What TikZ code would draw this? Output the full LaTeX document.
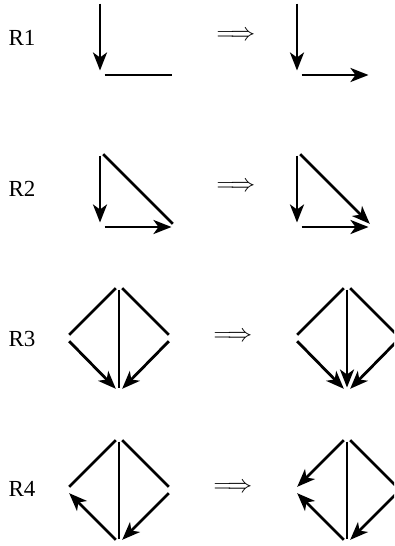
\documentclass[tikz,border=0pt]{standalone}
\usepackage{fontspec}
\setmainfont{Liberation Serif}
\usetikzlibrary{arrows.meta}

\begin{document}
\begin{tikzpicture}[
    x=1pt, y=-1pt,
    lbl/.style={font=\fontsize{23}{26}\selectfont},
    impl/.style={font=\fontsize{26}{30}\selectfont},
    edge/.style={line width=2.8pt, shorten <=4.5pt, shorten >=4.5pt},
    arr/.style={edge, -{Stealth[length=18pt, width=14pt, inset=5pt]}},
  ]
    \clip (0,0) rectangle (394,546);

    % R1
    \node[lbl]  (r1) at (22,38)  {R1};
    \node[impl] (i1) at (236,36) {$\Longrightarrow$};
    \coordinate (a1t) at (100,-1);
    \coordinate (a1c) at (100,75);
    \coordinate (a1r) at (176,75);
    \coordinate (b1t) at (297,-1);
    \coordinate (b1c) at (297,75);
    \coordinate (b1r) at (373,75);
    \draw[arr]  (a1t) -- (a1c);
    \draw[edge] (a1c) -- (a1r);
    \draw[arr]  (b1t) -- (b1c);
    \draw[arr]  (b1c) -- (b1r);

    % R2
    \node[lbl]  (r2) at (22,189)  {R2};
    \node[impl] (i2) at (236,187) {$\Longrightarrow$};
    \coordinate (a2t) at (100,151);
    \coordinate (a2c) at (100,227);
    \coordinate (a2r) at (176,227);
    \coordinate (b2t) at (297,151);
    \coordinate (b2c) at (297,227);
    \coordinate (b2r) at (373,227);
    \draw[arr]  (a2t) -- (a2c);
    \draw[arr]  (a2c) -- (a2r);
    \draw[edge] (a2t) -- (a2r);
    \draw[arr]  (b2t) -- (b2c);
    \draw[arr]  (b2c) -- (b2r);
    \draw[arr]  (b2t) -- (b2r);

    % R3
    \node[lbl]  (r3) at (22,339)  {R3};
    \node[impl] (i3) at (233,337) {$\Longrightarrow$};
    \coordinate (a3l) at (66,338);
    \coordinate (a3t) at (119,285);
    \coordinate (a3r) at (172,338);
    \coordinate (a3b) at (119,392);
    \coordinate (b3l) at (294,338);
    \coordinate (b3t) at (347,285);
    \coordinate (b3r) at (400,338);
    \coordinate (b3b) at (347,392);
    \draw[edge] (a3l) -- (a3t);
    \draw[edge] (a3t) -- (a3r);
    \draw[edge] (a3t) -- (a3b);
    \draw[arr]  (a3l) -- (a3b);
    \draw[arr]  (a3r) -- (a3b);
    \draw[edge] (b3l) -- (b3t);
    \draw[edge] (b3t) -- (b3r);
    \draw[arr]  (b3t) -- (b3b);
    \draw[arr]  (b3l) -- (b3b);
    \draw[arr]  (b3r) -- (b3b);

    % R4
    \node[lbl]  (r4) at (22,489)  {R4};
    \node[impl] (i4) at (233,488) {$\Longrightarrow$};
    \coordinate (a4l) at (66,490);
    \coordinate (a4t) at (119,437);
    \coordinate (a4r) at (172,490);
    \coordinate (a4b) at (119,543);
    \coordinate (b4l) at (294,490);
    \coordinate (b4t) at (347,437);
    \coordinate (b4r) at (400,490);
    \coordinate (b4b) at (347,543);
    \draw[edge] (a4l) -- (a4t);
    \draw[edge] (a4t) -- (a4r);
    \draw[edge] (a4t) -- (a4b);
    \draw[arr]  (a4b) -- (a4l);
    \draw[arr]  (a4r) -- (a4b);
    \draw[arr]  (b4t) -- (b4l);
    \draw[edge] (b4t) -- (b4r);
    \draw[edge] (b4t) -- (b4b);
    \draw[arr]  (b4b) -- (b4l);
    \draw[arr]  (b4r) -- (b4b);
\end{tikzpicture}
\end{document}
